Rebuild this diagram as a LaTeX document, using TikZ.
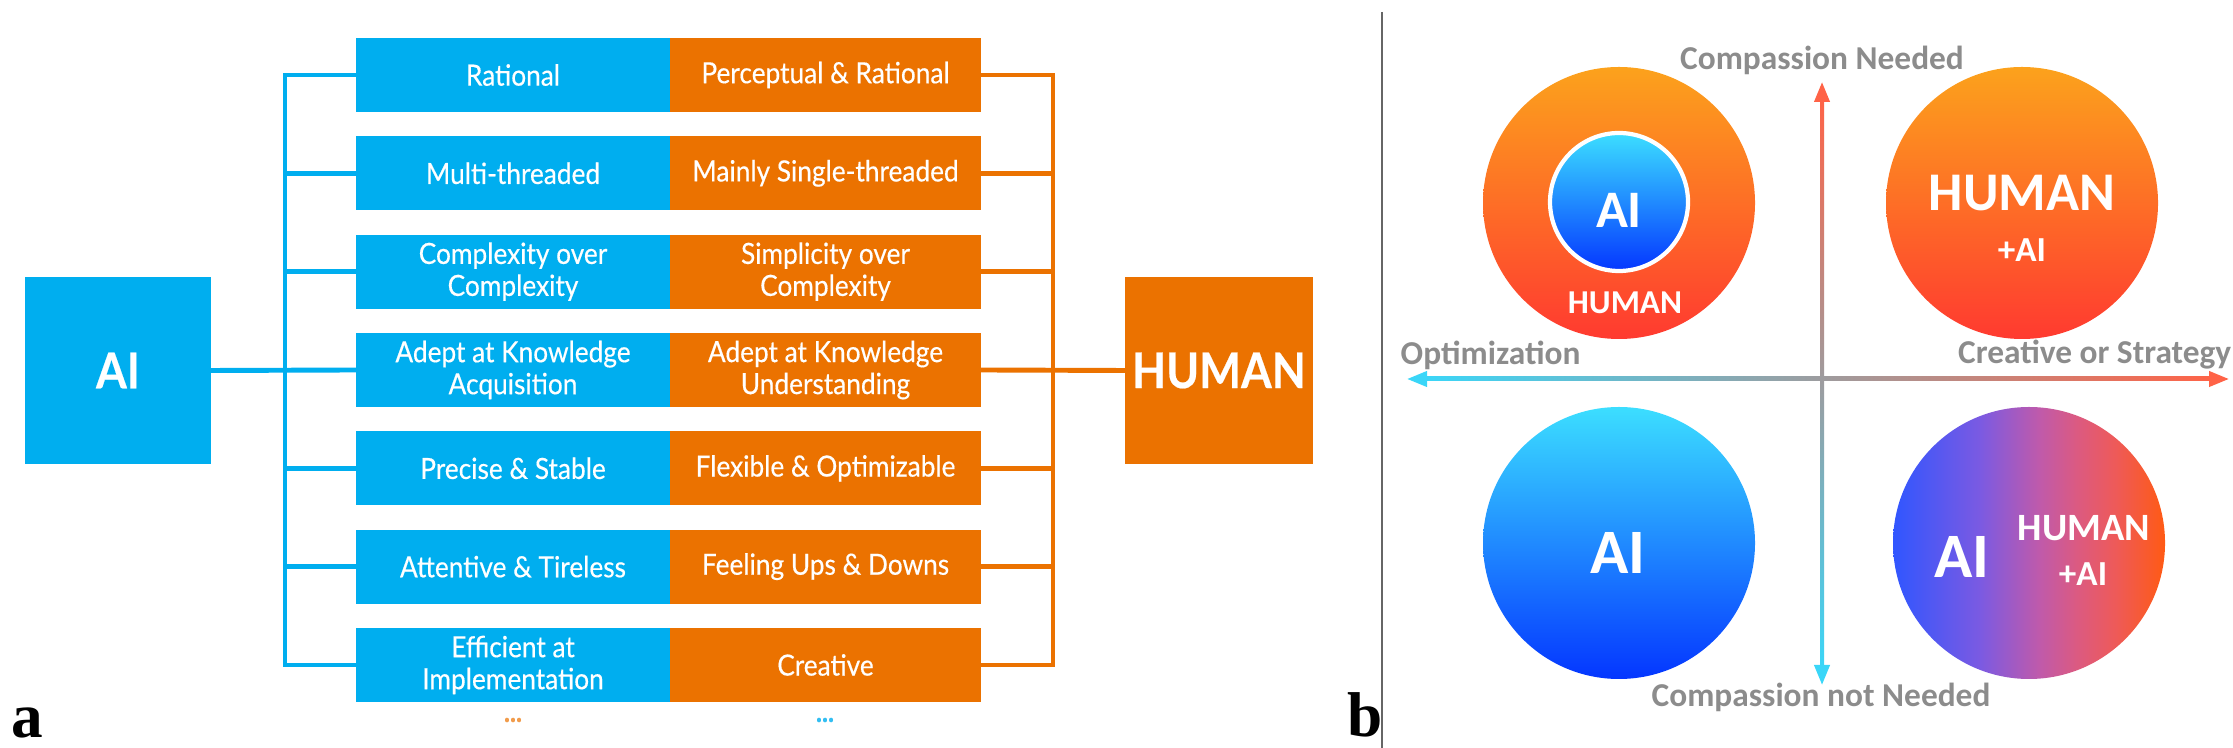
\documentclass[tikz,border=0pt]{standalone}
\usepackage{fontspec}
\usepackage{xcolor}
\usetikzlibrary{positioning,arrows.meta,calc}

\newfontfamily\rowfont{Lato}[FakeStretch=0.9, FakeBold=0.4]
\newfontfamily\calfont{Carlito}
\newfontfamily\tagfont{Liberation Serif}

\definecolor{aiblue}{HTML}{00AEEF}
\definecolor{huorange}{HTML}{EB7200}
\definecolor{warmtop}{HTML}{FCA21C}
\definecolor{warmmid}{HTML}{FA7A2A}
\definecolor{warmbot}{HTML}{FF3A30}
\definecolor{cooltop}{HTML}{3CDEFF}
\definecolor{coolmid}{HTML}{2A90FF}
\definecolor{coolbot}{HTML}{0436FF}
\definecolor{axred}{HTML}{FF6347}
\definecolor{axmid}{HTML}{B8A8C4}
\definecolor{axcyan}{HTML}{3AD6F8}
\definecolor{labelgray}{HTML}{8C8C8C}
\definecolor{mixblue}{HTML}{3056FF}
\definecolor{mixviolet}{HTML}{7B5AE2}
\definecolor{mixmauve}{HTML}{C05AAA}
\definecolor{mixpink}{HTML}{DC5A80}
\definecolor{mixcoral}{HTML}{EE5A58}
\definecolor{mixred}{HTML}{FF5A14}

\pgfdeclarehorizontalshading{aihuman}{100bp}{color(0bp)=(mixblue); color(25bp)=(mixblue);
  color(41bp)=(mixviolet); color(52bp)=(mixmauve); color(59bp)=(mixpink);
  color(66bp)=(mixcoral); color(75bp)=(mixred); color(100bp)=(mixred)}

\tikzset{
  rowbox/.style={inner sep=0pt, outer sep=0pt, minimum height=7.4mm, align=center,
    text=white, font=\rowfont\fontsize{8.3}{9.1}\selectfont},
  aicell/.style={rowbox, fill=aiblue, minimum width=31.4mm},
  hucell/.style={rowbox, fill=huorange, minimum width=31.1mm},
  mainbox/.style={inner sep=0pt, outer sep=0pt, minimum height=18.7mm, text=white,
    font=\rowfont\bfseries\fontsize{14}{16}\selectfont},
  aibus/.style={draw=aiblue, line width=1.4pt},
  hubus/.style={draw=huorange, line width=1.4pt},
  bigtxt/.style={text=white, inner sep=0pt, font=\calfont\bfseries\fontsize{#1}{#1}\selectfont},
  axlabel/.style={text=labelgray, inner sep=0pt, font=\calfont\bfseries\fontsize{9.5}{11}\selectfont},
  axtip/.style={line width=1.1pt, -{Triangle[length=2mm, width=1.5mm]}},
  paneltag/.style={inner sep=0pt, anchor=base west, font=\tagfont\bfseries\fontsize{18}{20}\selectfont}
}

\begin{document}
\begin{tikzpicture}[x=0.1mm, y=-0.1mm]
  \useasboundingbox (0,0) rectangle (2233,748);

  % panel a: AI versus HUMAN
  \node[mainbox, fill=aiblue, minimum width=18.6mm] (ai) at (118,370.5) {AI};
  \node[mainbox, fill=huorange, minimum width=18.8mm] (human) at (1219,370.5) {HUMAN};

  \foreach \k/\lt/\rt in {
    1/Rational/Perceptual \& Rational,
    2/Multi-threaded/Mainly Single-threaded,
    3/{Complexity over\\Complexity}/{Simplicity over\\Complexity},
    4/{Adept at Knowledge\\Acquisition}/{Adept at Knowledge\\Understanding},
    5/Precise \& Stable/Flexible \& Optimizable,
    6/Attentive \& Tireless/Feeling Ups \& Downs,
    7/{Efficient at\\Implementation}/Creative}
  {
    \node[aicell] (a\k) at (513,{75+98.33*(\k-1)}) {\lt};
    \node[hucell, right=0pt of a\k] (h\k) {\rt};
  }

  % buses
  \coordinate (lbus) at (285,0);
  \coordinate (rbus) at (1053,0);
  \draw[aibus] (ai.east) -- (a4.west);
  \draw[aibus] (a1.west) -- (a1.west -| lbus) -- (a7.west -| lbus) -- (a7.west);
  \foreach \k in {2,3,5,6} \draw[aibus] (a\k.west) -- (a\k.west -| lbus);
  \draw[hubus] (h4.east) -- (human.west);
  \draw[hubus] (h1.east) -- (h1.east -| rbus) -- (h7.east -| rbus) -- (h7.east);
  \foreach \k in {2,3,5,6} \draw[hubus] (h\k.east) -- (h\k.east -| rbus);

  \node[text=huorange!70, font=\rowfont\bfseries\fontsize{8}{8}\selectfont] (moreai) at (513,720) {...};
  \node[text=aiblue!80, font=\rowfont\bfseries\fontsize{8}{8}\selectfont] (morehu) at (825,720) {...};

  \node[paneltag] (taga) at (11,738) {a};
  \node[paneltag] (tagb) at (1347,737) {b};

  % divider
  \draw[gray!80!black, line width=0.6pt] (1382,12) -- (1382,748);

  % panel b: quadrant discs
  \shade[top color=warmtop, middle color=warmmid, bottom color=warmbot] (1619,203) circle[radius=136];
  \shade[top color=warmtop, middle color=warmmid, bottom color=warmbot] (2022,203) circle[radius=136];
  \shade[top color=cooltop, middle color=coolmid, bottom color=coolbot] (1619,543) circle[radius=136];
  \shade[shading=aihuman] (2029,543) circle[radius=136];
  \shadedraw[top color=cooltop, middle color=coolmid, bottom color=coolbot, draw=white,
    line width=1.2pt] (1619,202) circle[radius=69];

  \node[bigtxt=15] (inai) at (1619,210) {AI};
  \node[bigtxt=9.5] (inhu) at (1625,303) {HUMAN};
  \node[bigtxt=15.5] (trhu) at (2022,193) {HUMAN};
  \node[bigtxt=10] (trai) at (2022,250) {+AI};
  \node[bigtxt=18] (blai) at (1618,553) {AI};
  \node[bigtxt=18] (brai) at (1962,557) {AI};
  \node[bigtxt=11] (brhu) at (2084,528) {HUMAN};
  \node[bigtxt=10] (brai2) at (2083,574) {+AI};

  % axes
  \coordinate (vtop) at (1822,82);
  \coordinate (vbot) at (1822,685);
  \coordinate (hleft) at (1407,379);
  \coordinate (hright) at (2229,379);
  \shade[top color=axred, middle color=axmid, bottom color=axcyan] (1820,98) rectangle (1824,669);
  \shade[left color=axcyan, middle color=axmid, right color=axred] (1423,377) rectangle (2213,381);
  \draw[axtip, axred] (1822,100) -- (vtop);
  \draw[axtip, axcyan] (1822,667) -- (vbot);
  \draw[axtip, axcyan] (1425,379) -- (hleft);
  \draw[axtip, axred] (2211,379) -- (hright);

  \node[axlabel] (upper) at (1822,60) {Compassion Needed};
  \node[axlabel] (lower) at (1821,697) {Compassion not Needed};
  \node[axlabel, anchor=west] (leftlab) at (1400,355) {Optimization};
  \node[axlabel, anchor=east] (rightlab) at (2232,355) {Creative or Strategy};
\end{tikzpicture}
\end{document}
